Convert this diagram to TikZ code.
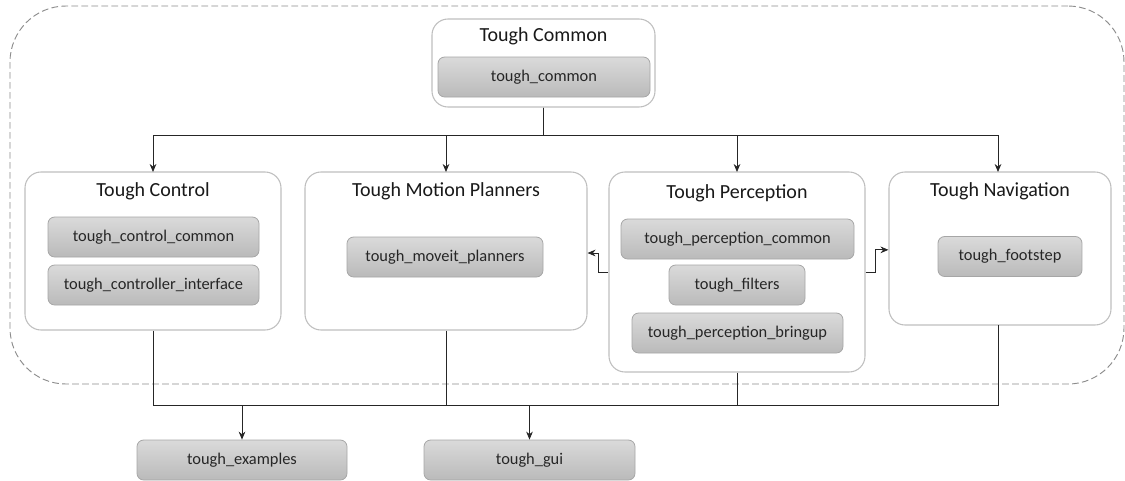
\documentclass[tikz,border=0pt]{standalone}
\usepackage{fontspec}
\setmainfont{Carlito}
\usetikzlibrary{arrows.meta}
\newcommand\ttlfont{\fontsize{15pt}{17pt}\selectfont}
\newcommand\pkgfont{\fontsize{12.3pt}{14pt}\selectfont}
\definecolor{grpline}{HTML}{BFBFBF}
\definecolor{pkgline}{HTML}{A6A6A6}
\definecolor{pkgtop}{HTML}{DADADA}
\definecolor{pkgbot}{HTML}{BABABA}
\definecolor{conn}{HTML}{262626}
\definecolor{dashc}{HTML}{8C8C8C}
\tikzset{
  grp/.style={draw=grpline, line width=0.8pt, rounded corners=12pt, fill=white, inner sep=0pt},
  pkg/.style={draw=pkgline, line width=0.6pt, rounded corners=5pt, top color=pkgtop, bottom color=pkgbot, inner sep=0pt, font=\pkgfont, text=black!85},
  ttl/.style={font=\ttlfont, inner sep=0pt, text=black!90},
  outerbox/.style={draw=dashc, dash pattern=on 5pt off 2.5pt, line width=0.7pt, rounded corners=42pt, inner sep=0pt},
  conline/.style={draw=conn, line width=0.6pt},
  arr/.style={conline, -{Stealth[length=6pt,width=5pt]}}
}
\begin{document}
\begin{tikzpicture}[x=0.75pt,y=-0.75pt]
\useasboundingbox (0,0) rectangle (1125,480);
% outer dashed frame
\node[outerbox, minimum width=1114*0.75pt, minimum height=378*0.75pt] (outer) at (567,195) {};
% Tough Common
\node[grp, minimum width=223*0.75pt, minimum height=88*0.75pt] (cmn) at (543.5,63) {};
\node[ttl] (cmnt) at (543.5,36) {Tough Common};
\node[pkg, minimum width=212*0.75pt, minimum height=40*0.75pt] (cmnp) at (544,77) {tough\_common};
% Tough Control
\node[grp, minimum width=256*0.75pt, minimum height=158*0.75pt] (ctl) at (153,251) {};
\node[ttl] (ctlt) at (153,191) {Tough Control};
\node[pkg, minimum width=211*0.75pt, minimum height=40*0.75pt] (ctl1) at (153.5,237) {tough\_control\_common};
\node[pkg, minimum width=211*0.75pt, minimum height=40*0.75pt] (ctl2) at (153.5,285) {tough\_controller\_interface};
% Tough Motion Planners
\node[grp, minimum width=282*0.75pt, minimum height=158*0.75pt] (mot) at (446,251) {};
\node[ttl] (mott) at (446,191) {Tough Motion Planners};
\node[pkg, minimum width=196*0.75pt, minimum height=40*0.75pt] (mot1) at (445,257) {tough\_moveit\_planners};
% Tough Perception
\node[grp, minimum width=256*0.75pt, minimum height=200*0.75pt] (per) at (737,272) {};
\node[ttl] (pert) at (737,193) {Tough Perception};
\node[pkg, minimum width=233*0.75pt, minimum height=40*0.75pt] (per1) at (737.5,239) {tough\_perception\_common};
\node[pkg, minimum width=136*0.75pt, minimum height=40*0.75pt] (per2) at (737,285) {tough\_filters};
\node[pkg, minimum width=211*0.75pt, minimum height=40*0.75pt] (per3) at (737.5,333) {tough\_perception\_bringup};
% Tough Navigation
\node[grp, minimum width=222*0.75pt, minimum height=153*0.75pt] (nav) at (1000,248.5) {};
\node[ttl] (navt) at (1000,191) {Tough Navigation};
\node[pkg, minimum width=144*0.75pt, minimum height=40*0.75pt] (nav1) at (1010,256.5) {tough\_footstep};
% bottom packages
\node[pkg, minimum width=210*0.75pt, minimum height=40*0.75pt] (ex) at (242,460) {tough\_examples};
\node[pkg, minimum width=211*0.75pt, minimum height=40*0.75pt] (gui) at (529.5,460) {tough\_gui};
% top bus
\coordinate (ctlin) at (153,172);
\coordinate (motin) at (446,172);
\coordinate (perin) at (737,172);
\coordinate (navin) at (998,172);
\draw[arr] (cmn.south) -- ++(0,28) -| (ctlin);
\draw[arr] (cmn.south) -- ++(0,28) -| (motin);
\draw[arr] (cmn.south) -- ++(0,28) -| (perin);
\draw[arr] (cmn.south) -- ++(0,28) -| (navin);
% perception side arrows
\draw[arr] (per.west) -- ++(-10,0) |- ([yshift=-1.5pt]mot.east);
\draw[arr] (per.east) -- ++(10,0) |- ([yshift=-1pt]nav.west);
% bottom bus
\coordinate (busL) at (153,405);
\coordinate (busR) at (998,405);
\coordinate (navout) at (998,325);
\draw[conline] (ctl.south) -- (busL) -- (busR) -- (navout);
\draw[conline] (mot.south) -- (mot.south |- busL);
\draw[conline] (per.south) -- (per.south |- busL);
\draw[arr] (ex.north |- busL) -- (ex.north);
\draw[arr] (gui.north |- busL) -- (gui.north);
\end{tikzpicture}
\end{document}
